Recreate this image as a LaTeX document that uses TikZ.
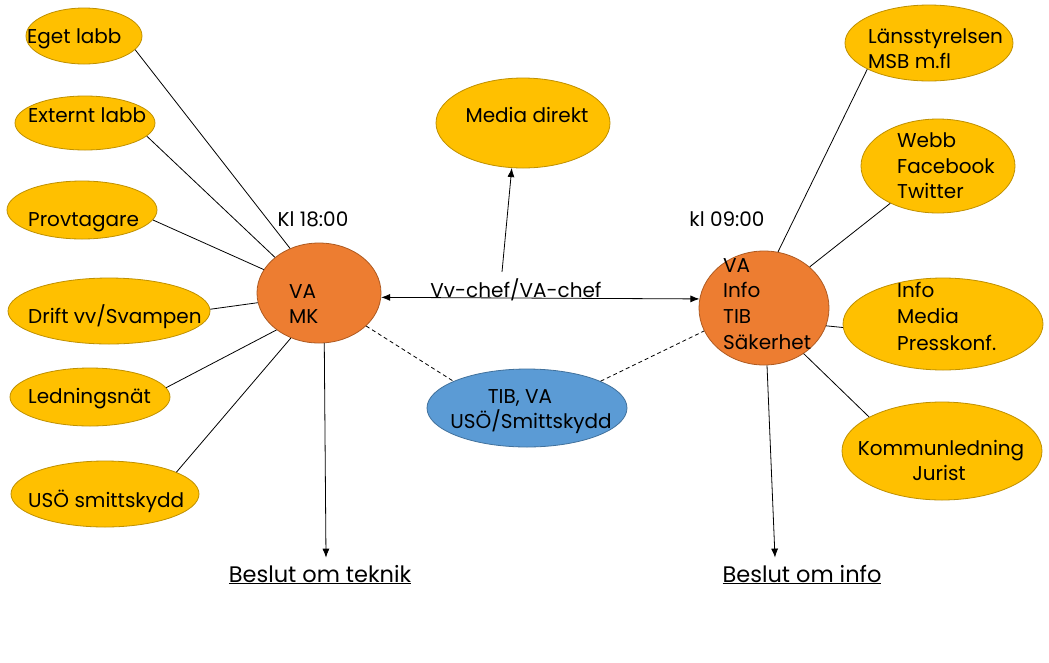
\documentclass[tikz,border=0pt]{standalone}
\usepackage{fontspec}
\setmainfont{Poppins}
\usetikzlibrary{arrows.meta,shapes.geometric}
\definecolor{yelf}{HTML}{FFC000}
\definecolor{yelb}{HTML}{BF9000}
\definecolor{orf}{HTML}{ED7D31}
\definecolor{orb}{HTML}{AE5A21}
\definecolor{bluf}{HTML}{5B9BD5}
\definecolor{blub}{HTML}{41719C}
\begin{document}
\begin{tikzpicture}[x=1pt,y=-1pt,
  yel/.style={ellipse,draw=yelb,fill=yelf,line width=0.8pt,inner sep=0pt},
  ora/.style={ellipse,draw=orb,fill=orf,line width=0.8pt,inner sep=0pt},
  blu/.style={ellipse,draw=blub,fill=bluf,line width=0.8pt,inner sep=0pt},
  txt/.style={anchor=base west,inner sep=0pt,font=\fontsize{20}{24}\selectfont},
  ctxt/.style={anchor=base,inner sep=0pt,font=\fontsize{20}{24}\selectfont},
  btxt/.style={anchor=base,inner sep=0pt,font=\fontsize{22.5}{26}\selectfont},
  conn/.style={draw=black,line width=0.8pt},
  arr/.style={conn,-{Latex[length=9pt,width=7pt]}},
  darr/.style={conn,{Latex[length=9pt,width=7pt]}-{Latex[length=9pt,width=7pt]}},
  dsh/.style={conn,dash pattern=on 4pt off 3pt}]
\useasboundingbox (0,0) rectangle (1049,662);
\fill[white] (0,0) rectangle (1049,662);
% ellipses
\node[yel,minimum width=116,minimum height=56] (eget) at (84,36) {};
\node[yel,minimum width=140,minimum height=54] (externt) at (85,123) {};
\node[yel,minimum width=150,minimum height=58] (prov) at (82,210) {};
\node[yel,minimum width=202,minimum height=66] (drift) at (109,311) {};
\node[yel,minimum width=160,minimum height=58] (led) at (90,397) {};
\node[yel,minimum width=188,minimum height=66] (uso) at (105,494) {};
\node[ora,minimum width=124,minimum height=100] (vamk) at (319,293) {};
\node[yel,minimum width=174,minimum height=90] (media) at (523,123) {};
\node[blu,minimum width=200,minimum height=78] (tib) at (527,408) {};
\node[ora,minimum width=130,minimum height=114] (vainfo) at (764,308) {};
\node[yel,minimum width=168,minimum height=76] (lans) at (929,43) {};
\node[yel,minimum width=154,minimum height=94] (webb) at (938,166) {};
\node[yel,minimum width=200,minimum height=92] (info) at (943,324) {};
\node[yel,minimum width=200,minimum height=98] (komm) at (942,451) {};
% texts
\node[txt] (t1) at (27,43) {Eget labb};
\node[txt] (t2) at (28,122) {Externt labb};
\node[txt] (t3) at (28,226) {Provtagare};
\node[txt] (t4) at (28,323) {Drift vv/Svampen};
\node[txt] (t5) at (28,403) {Ledningsnät};
\node[txt] (t6) at (28,507) {USÖ smittskydd};
\node[ctxt] (kl18) at (313,226) {Kl 18:00};
\node[txt] (t7) at (289,298) {VA};
\node[txt] (t8) at (289,323) {MK};
\node[btxt] (btek) at (320,582) {\underline{Beslut om teknik}};
\node[ctxt] (t9) at (527,122) {Media direkt};
\node[ctxt] (vvchef) at (516,297) {Vv-chef/VA-chef};
\node[ctxt] (t10) at (520,403) {TIB, VA};
\node[ctxt] (t11) at (531,428) {USÖ/Smittskydd};
\node[ctxt] (kl09) at (727,226) {kl 09:00};
\node[txt] (t12) at (868,43) {Länsstyrelsen};
\node[txt] (t13) at (868,68) {MSB m.fl};
\node[txt] (t14) at (897,147) {Webb};
\node[txt] (t15) at (897,173) {Facebook};
\node[txt] (t16) at (897,198) {Twitter};
\node[txt] (t17) at (723,272) {VA};
\node[txt] (t18) at (723,297) {Info};
\node[txt] (t19) at (723,323) {TIB};
\node[txt] (t20) at (723,349) {Säkerhet};
\node[txt] (t21) at (897,297) {Info};
\node[txt] (t22) at (897,323) {Media};
\node[txt] (t23) at (897,350) {Presskonf.};
\node[ctxt] (t24) at (941,455) {Kommunledning};
\node[ctxt] (t25) at (939,480) {Jurist};
\node[btxt] (binfo) at (802,582) {\underline{Beslut om info}};
% connectors left
\draw[conn] (eget.-15) -- (vamk.123);
\draw[conn] (externt.-12) -- (vamk.141);
\draw[conn] (prov.-8) -- (vamk.157);
\draw[conn] (drift.1) -- (vamk.-171);
\draw[conn] (led.7) -- (vamk.-139);
\draw[conn] (uso.17) -- (vamk.-122);
\draw[arr] (vamk.-84) -- ([xshift=6pt,yshift=7pt]btek.north);
% middle
\draw[darr] (vamk.-4) -- (vainfo.172);
\draw[arr] ([xshift=-14pt,yshift=6pt]vvchef.north) -- (media.-104);
\draw[dsh] (vamk.-35) -- (tib.160);
\draw[dsh] (tib.20) -- (vainfo.-159);
% right
\draw[conn] (lans.-157) -- (vainfo.76);
\draw[conn] (webb.-142) -- (vainfo.42);
\draw[conn] (info.182) -- (vainfo.-16);
\draw[conn] (komm.155) -- (vainfo.-49);
\draw[arr] (vainfo.-87) -- ([xshift=-27pt,yshift=7pt]binfo.north);
\end{tikzpicture}
\end{document}
